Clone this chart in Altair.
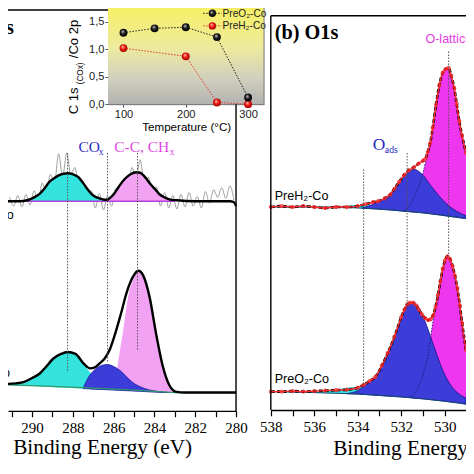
import altair as alt
import pandas as pd

K = 458 / 474.0


def px(v):
    return round(v * K, 2)


SERIF = "Liberation Serif"
SANS = "Liberation Sans"

# ---------------- Panel (a) C1s : PreH2-Co (upper trace) ----------------
a_up_raw_E = [291.1, 290.9, 290.7, 290.5, 290.3, 290.1, 289.9, 289.7, 289.5, 289.3,
              289.1, 288.9, 288.7, 288.5, 288.3, 288.1, 287.9, 287.7, 287.5, 287.3,
              287.1, 286.9, 286.7, 286.5, 286.3, 286.1, 285.9, 285.7, 285.5, 285.3,
              285.1, 284.9, 284.7, 284.5, 284.3, 284.1, 283.9, 283.7, 283.5, 283.3,
              283.1, 282.9, 282.7, 282.5, 282.3, 282.1, 281.9, 281.7, 281.5, 281.3,
              281.1, 280.9, 280.7, 280.5, 280.3, 280.1]
a_up_raw_I = [2.21, 2.12, 2.23, 2.11, 2.24, 2.13, 2.28, 2.17, 2.36, 2.25,
              2.45, 2.36, 2.66, 2.43, 2.67, 2.44, 2.52, 2.33, 2.38, 2.22,
              2.28, 2.10, 2.25, 2.08, 2.22, 2.12, 2.30, 2.22, 2.40, 2.33,
              2.52, 2.41, 2.60, 2.37, 2.42, 2.26, 2.32, 2.12, 2.26, 2.10,
              2.23, 2.09, 2.24, 2.11, 2.26, 2.12, 2.22, 2.10, 2.27, 2.15,
              2.29, 2.21, 2.31, 2.20, 2.33, 2.18]
a_up_fit_E = [291.18, 290.6, 290.24, 289.9, 289.62, 289.4, 289.15, 288.9, 288.67, 288.45,
              288.26, 288.0, 287.73, 287.5, 287.3, 287.1, 286.92, 286.7, 286.54, 286.35,
              286.2, 285.97, 285.75, 285.5, 285.3, 285.17, 284.88, 284.7, 284.55, 284.35,
              284.17, 283.95, 283.74, 283.5, 283.27, 282.9, 282.0, 281.0, 280.3, 280.1, 280.0]
a_up_fit_I = [2.17, 2.17, 2.18, 2.21, 2.25, 2.30, 2.37, 2.41, 2.44, 2.455,
              2.46, 2.45, 2.42, 2.36, 2.30, 2.25, 2.22, 2.20, 2.19, 2.185,
              2.20, 2.25, 2.32, 2.39, 2.43, 2.45, 2.47, 2.465, 2.44, 2.39,
              2.34, 2.29, 2.24, 2.21, 2.19, 2.18, 2.17, 2.17, 2.17, 2.16, 2.12]
a_up_base = 2.17
a_up_cox_E = [290.6, 290.24, 289.9, 289.62, 289.4, 289.15, 288.9, 288.67, 288.45, 288.26,
              288.0, 287.73, 287.5, 287.3, 287.1, 286.92, 286.7, 286.54, 286.3]
a_up_cox_I = [2.17, 2.18, 2.21, 2.25, 2.30, 2.37, 2.41, 2.44, 2.455, 2.46,
              2.45, 2.42, 2.36, 2.30, 2.25, 2.22, 2.195, 2.185, 2.17]
a_up_cc_E = [286.6, 286.45, 286.2, 285.97, 285.75, 285.5, 285.3, 285.17, 284.88, 284.7,
             284.55, 284.35, 284.17, 283.95, 283.74, 283.5, 283.27, 282.9]
a_up_cc_I = [2.17, 2.175, 2.20, 2.25, 2.32, 2.39, 2.43, 2.45, 2.47, 2.465,
             2.44, 2.39, 2.34, 2.29, 2.24, 2.21, 2.19, 2.175]

# ---------------- Panel (a) C1s : PreO2-Co (lower trace) ----------------
a_lo_fit_E = [291.18, 290.8, 290.39, 290.0, 289.61, 289.3, 288.97, 288.58, 288.26, 287.87,
              287.47, 287.16, 286.92, 286.7, 286.45, 286.2, 285.97, 285.65, 285.34, 285.02,
              284.79, 284.55, 284.23, 283.92, 283.60, 283.28, 282.97, 282.5, 281.5, 280.5, 280.0]
a_lo_fit_I = [0.28, 0.285, 0.30, 0.34, 0.39, 0.46, 0.54, 0.59, 0.61, 0.59,
              0.49, 0.44, 0.45, 0.49, 0.54, 0.63, 0.77, 1.00, 1.24, 1.40,
              1.45, 1.40, 1.17, 0.80, 0.47, 0.27, 0.20, 0.19, 0.19, 0.19, 0.19]
a_lo_bg_E = [291.18, 289.0, 287.0, 285.0, 283.0, 280.0]
a_lo_bg_I = [0.27, 0.255, 0.235, 0.215, 0.19, 0.19]
a_lo_cox_E = [291.18, 290.8, 290.39, 290.0, 289.61, 289.3, 288.97, 288.58, 288.26, 287.87,
              287.47, 287.16, 286.9, 286.6, 286.3, 286.0, 285.6, 285.2]
a_lo_cox_top = [0.28, 0.285, 0.30, 0.34, 0.39, 0.46, 0.54, 0.59, 0.61, 0.59,
                0.48, 0.40, 0.34, 0.29, 0.26, 0.24, 0.225, 0.215]
a_lo_cox_bot = [0.27, 0.266, 0.262, 0.257, 0.253, 0.25, 0.246, 0.242, 0.239, 0.235,
                0.231, 0.228, 0.225, 0.222, 0.219, 0.216, 0.212, 0.207]
a_lo_co_E = [287.5, 287.2, 286.9, 286.6, 286.3, 286.0, 285.7, 285.4, 285.1, 284.7, 284.3, 283.8, 283.3]
a_lo_co_top = [0.235, 0.36, 0.43, 0.47, 0.48, 0.46, 0.42, 0.36, 0.30, 0.25, 0.22, 0.20, 0.19]
a_lo_co_bot = [0.231, 0.228, 0.225, 0.222, 0.219, 0.216, 0.213, 0.21, 0.207, 0.203, 0.198, 0.193, 0.19]
a_lo_cc_E = [286.1, 285.95, 285.75, 285.5, 285.3, 285.02, 284.79, 284.55, 284.23, 283.92,
             283.6, 283.28, 282.97, 282.6]
a_lo_cc_top = [0.217, 0.28, 0.55, 0.88, 1.17, 1.37, 1.44, 1.40, 1.17, 0.80, 0.47, 0.27, 0.20, 0.19]
a_lo_cc_bot = [0.217, 0.215, 0.213, 0.21, 0.208, 0.205, 0.203, 0.2, 0.197, 0.194, 0.19, 0.19, 0.19, 0.19]
a_vl_E = [288.26, 286.3, 284.83]
a_vl_top = [2.67, 2.67, 2.67]
a_vl_bot = [0.40, 0.50, 0.62]

# ---------------- Panel (b) O1s : PreH2-Co (upper trace) ----------------
b_up_E = [538.0, 537.5, 537.0, 536.5, 536.0, 535.5, 535.0, 534.5, 534.0, 533.64,
          533.3, 533.07, 532.76, 532.5, 532.31, 532.1, 531.87, 531.65, 531.42, 531.2,
          531.0, 530.89, 530.78, 530.67, 530.55, 530.4, 530.25, 530.09, 529.95, 529.82,
          529.7, 529.56, 529.45, 529.33, 529.2, 529.02]
b_up_I = [2.10, 2.11, 2.10, 2.11, 2.10, 2.09, 2.10, 2.10, 2.11, 2.13,
          2.15, 2.16, 2.19, 2.23, 2.29, 2.36, 2.43, 2.48, 2.51, 2.55,
          2.58, 2.60, 2.67, 2.76, 2.92, 3.16, 3.36, 3.49, 3.53, 3.54,
          3.46, 3.33, 3.17, 2.99, 2.84, 2.66]
b_up_bg_E = [538.0, 535.0, 534.0, 533.0, 532.0, 531.0, 530.0, 529.02]
b_up_bg_I = [2.10, 2.10, 2.09, 2.08, 2.06, 2.04, 2.01, 1.98]
b_up_cy_E = [535.0, 534.5, 534.0, 533.5, 533.0, 532.5]
b_up_cy_top = [2.10, 2.11, 2.12, 2.12, 2.10, 2.07]
b_up_cy_bot = [2.10, 2.095, 2.09, 2.085, 2.08, 2.07]
b_up_ads_E = [533.8, 533.5, 533.3, 532.9, 532.5, 532.2, 531.87, 531.6, 531.42, 531.2,
              531.0, 530.6, 530.2, 529.8, 529.4, 529.02]
b_up_ads_top = [2.09, 2.11, 2.13, 2.17, 2.24, 2.32, 2.41, 2.47, 2.49, 2.47,
                2.43, 2.31, 2.20, 2.11, 2.05, 2.01]
b_up_ads_bot = [2.086, 2.084, 2.082, 2.075, 2.07, 2.064, 2.057, 2.052, 2.048, 2.044,
                2.04, 2.03, 2.02, 2.005, 1.995, 1.98]
b_up_lat_E = [531.9, 531.6, 531.42, 531.2, 531.0, 530.89, 530.78, 530.67, 530.55, 530.4,
              530.25, 530.09, 529.95, 529.82, 529.7, 529.56, 529.45, 529.33, 529.2, 529.02]
b_up_lat_top = [2.06, 2.12, 2.20, 2.31, 2.45, 2.56, 2.66, 2.76, 2.92, 3.16,
                3.36, 3.49, 3.53, 3.54, 3.46, 3.33, 3.17, 2.99, 2.84, 2.66]
b_up_lat_bot = [2.057, 2.052, 2.048, 2.044, 2.04, 2.038, 2.035, 2.033, 2.03, 2.028,
                2.024, 2.02, 2.016, 2.013, 2.01, 2.006, 2.003, 2.0, 1.995, 1.98]

# ---------------- Panel (b) O1s : PreO2-Co (lower trace) ----------------
b_lo_E = [538.0, 537.5, 537.0, 536.5, 536.0, 535.5, 535.0, 534.5, 534.0, 533.73,
          533.45, 533.2, 532.89, 532.62, 532.31, 532.0, 531.85, 531.73, 531.6, 531.45,
          531.3, 531.2, 531.05, 530.9, 530.76, 530.64, 530.53, 530.42, 530.31, 530.2,
          530.09, 529.98, 529.87, 529.75, 529.64, 529.53, 529.42, 529.3, 529.2, 529.02]
b_lo_I = [0.19, 0.19, 0.195, 0.19, 0.195, 0.20, 0.205, 0.21, 0.23, 0.26,
          0.30, 0.34, 0.46, 0.59, 0.76, 0.96, 1.04, 1.09, 1.11, 1.11,
          1.08, 1.04, 0.99, 0.95, 0.93, 0.94, 0.98, 1.07, 1.19, 1.33,
          1.46, 1.55, 1.59, 1.56, 1.49, 1.39, 1.26, 1.08, 0.90, 0.62]
b_lo_bg_E = [538.0, 536.0, 534.0, 533.0, 532.0, 531.0, 530.0, 529.02]
b_lo_bg_I = [0.19, 0.18, 0.165, 0.15, 0.135, 0.115, 0.09, 0.06]
b_lo_cy_E = [536.2, 535.5, 535.0, 534.5, 534.0, 533.6, 533.2, 532.8, 532.4]
b_lo_cy_top = [0.18, 0.195, 0.21, 0.23, 0.24, 0.235, 0.22, 0.19, 0.16]
b_lo_cy_bot = [0.178, 0.173, 0.17, 0.168, 0.165, 0.159, 0.153, 0.147, 0.141]
b_lo_ads_E = [534.5, 534.0, 533.73, 533.45, 533.2, 532.89, 532.62, 532.31, 532.0, 531.73,
              531.51, 531.2, 530.98, 530.76, 530.53, 530.31, 530.09, 529.87, 529.64, 529.42, 529.02]
b_lo_ads_top = [0.17, 0.20, 0.24, 0.29, 0.34, 0.46, 0.59, 0.76, 0.96, 1.09,
                1.11, 1.06, 0.96, 0.83, 0.68, 0.54, 0.41, 0.31, 0.23, 0.18, 0.12]
b_lo_ads_bot = [0.168, 0.165, 0.161, 0.157, 0.153, 0.148, 0.144, 0.139, 0.135, 0.13,
                0.125, 0.119, 0.115, 0.11, 0.104, 0.099, 0.093, 0.087, 0.081, 0.076, 0.06]
b_lo_lat_E = [531.7, 531.5, 531.2, 530.98, 530.76, 530.53, 530.31, 530.09, 529.87, 529.64,
              529.42, 529.3, 529.2, 529.02]
b_lo_lat_top = [0.13, 0.15, 0.24, 0.38, 0.58, 0.93, 1.19, 1.46, 1.59, 1.49, 1.26, 1.08, 0.90, 0.62]
b_lo_lat_bot = [0.13, 0.125, 0.119, 0.115, 0.11, 0.104, 0.099, 0.093, 0.087, 0.081,
                0.076, 0.072, 0.069, 0.06]
b_vl_E = [533.73, 531.73, 529.82]
b_vl_top = [2.49, 2.66, 3.71]
b_vl_bot = [0.26, 1.09, 1.59]

# ---------------- Inset ----------------
ins_T_O2 = [100, 150, 200, 250, 300]
ins_R_O2 = [1.30, 1.38, 1.40, 1.22, 0.12]
ins_T_H2 = [100, 200, 250, 300]
ins_R_H2 = [1.02, 0.87, 0.03, 0.0]

# ---------------- scales (layout) ----------------
SCALES = {
    "a": (lambda: alt.Scale(domain=[280, 291.18], range=[px(236), 0], nice=False, zero=False),
          lambda: alt.Scale(domain=[0, 4.17], range=[px(417), 0], nice=False, zero=False)),
    "b": (lambda: alt.Scale(domain=[529.02, 538], range=[px(474), px(272)], nice=False, zero=False),
          lambda: alt.Scale(domain=[0, 4.16], range=[px(416), 0], nice=False, zero=False)),
    "i": (lambda: alt.Scale(domain=[75.2, 325.6], range=[px(103.5), px(265)], nice=False, zero=False),
          lambda: alt.Scale(domain=[0, 1.75], range=[px(99.5), 0], nice=False, zero=False)),
}


def ch(panel, df, mark, x="E", y="I", y2=None, x2=None, xaxis=None, yaxis=None, **kw):
    sx, sy = SCALES[panel]
    enc = {"x": alt.X(f"{x}:Q", scale=sx(), axis=xaxis),
           "y": alt.Y(f"{y}:Q", scale=sy(), axis=yaxis)}
    if y2 is not None:
        enc["y2"] = alt.Y2(f"{y2}:Q") if isinstance(y2, str) else alt.Y2Datum(y2)
    if x2 is not None:
        enc["x2"] = alt.X2(f"{x2}:Q")
    return getattr(alt.Chart(df), "mark_" + mark)(**kw).encode(**enc)


def txt(s, x, y, size, font=SANS, color="black", align="left", baseline="middle",
        weight="normal", angle=0):
    kw = dict(align=align, baseline=baseline, font=font, fontSize=size, color=color,
              fontWeight=weight)
    if angle:
        kw["angle"] = angle
    return alt.Chart(pd.DataFrame({"t": [s]})).mark_text(**kw).encode(
        x=alt.value(px(x)), y=alt.value(px(y)), text="t:N")


def area_df(E, top, bot):
    return pd.DataFrame({"E": E, "top": top, "bot": bot})


L = []

# colours
CYAN = "#34e2de"
BLUE = "#3c3cd8"
MAG_L = "#f2a2f2"
MAG_R = "#ef36ef"

# ---- panel (a) upper ----
L.append(ch("a", pd.DataFrame({"E": a_up_raw_E, "I": a_up_raw_I}), "line",
            color="#a0a0a0", strokeWidth=1, interpolate="monotone"))
L.append(ch("a", pd.DataFrame({"E": a_up_cox_E, "I": a_up_cox_I}), "area", y2=a_up_base,
            color=CYAN, interpolate="monotone"))
L.append(ch("a", pd.DataFrame({"E": a_up_cc_E, "I": a_up_cc_I}), "area", y2=a_up_base,
            color=MAG_L, interpolate="monotone"))
L.append(ch("a", pd.DataFrame({"E0": [291.18], "E1": [283.0], "I": [a_up_base]}), "rule",
            x="E0", x2="E1", color="#b040d8", strokeWidth=1.5))
L.append(ch("a", pd.DataFrame({"E": a_up_fit_E, "I": a_up_fit_I}), "line",
            color="black", strokeWidth=2.4, interpolate="monotone"))

# ---- panel (a) lower ----
L.append(ch("a", area_df(a_lo_cc_E, a_lo_cc_top, a_lo_cc_bot), "area", y="top", y2="bot",
            color=MAG_L, interpolate="monotone"))
L.append(ch("a", area_df(a_lo_cox_E, a_lo_cox_top, a_lo_cox_bot), "area", y="top", y2="bot",
            color=CYAN, interpolate="monotone"))
L.append(ch("a", area_df(a_lo_co_E, a_lo_co_top, a_lo_co_bot), "area", y="top", y2="bot",
            color=BLUE, interpolate="monotone", stroke="#1a1a9a", strokeWidth=0.8))
L.append(ch("a", pd.DataFrame({"E": a_lo_bg_E, "I": a_lo_bg_I}), "line",
            color="#2e9a6a", strokeWidth=1.2))
L.append(ch("a", pd.DataFrame({"E": a_lo_fit_E, "I": a_lo_fit_I}), "line",
            color="black", strokeWidth=2.4, interpolate="monotone"))
L.append(ch("a", pd.DataFrame({"E": a_vl_E, "top": a_vl_top, "bot": a_vl_bot}), "rule",
            y="top", y2="bot", color="#555555", strokeWidth=1, strokeDash=[1.5, 1.5]))
# frame (a)
L.append(ch("a", pd.DataFrame({"E0": [291.18], "E1": [280.0], "I": [4.15]}), "rule",
            x="E0", x2="E1", color="black", strokeWidth=1.4))
L.append(ch("a", pd.DataFrame({"E": [280.0], "I0": [0.0], "I1": [4.15]}), "rule",
            y="I0", y2="I1", color="black", strokeWidth=1.4))
# axes (a)
AX_A = alt.Axis(orient="bottom", offset=px(417) - 458, values=[280, 282, 284, 286, 288, 290],
                format="d", labelFont=SERIF, labelFontSize=px(15.5), labelColor="black",
                labelFlush=False, labelOverlap=False, labelPadding=px(4), tickSize=px(6),
                tickColor="black", tickWidth=1.2, domainColor="black", domainWidth=1.4,
                grid=False, title=None)
AX_A2 = alt.Axis(orient="bottom", offset=px(417) - 458, values=[281, 283, 285, 287, 289, 291],
                 labels=False, domain=False, tickSize=px(6), tickColor="black", tickWidth=1.2,
                 grid=False, title=None)
L.append(ch("a", pd.DataFrame({"E": [280.0], "I": [0.0]}), "point", xaxis=AX_A, opacity=0))
L.append(ch("a", pd.DataFrame({"E": [280.0], "I": [0.0]}), "point", xaxis=AX_A2, opacity=0))

# ---- panel (b) ----
for (E, I, bgE, bgI, cyE, cyT, cyB, adE, adT, adB, laE, laT, laB) in [
    (b_up_E, b_up_I, b_up_bg_E, b_up_bg_I, b_up_cy_E, b_up_cy_top, b_up_cy_bot,
     b_up_ads_E, b_up_ads_top, b_up_ads_bot, b_up_lat_E, b_up_lat_top, b_up_lat_bot),
    (b_lo_E, b_lo_I, b_lo_bg_E, b_lo_bg_I, b_lo_cy_E, b_lo_cy_top, b_lo_cy_bot,
     b_lo_ads_E, b_lo_ads_top, b_lo_ads_bot, b_lo_lat_E, b_lo_lat_top, b_lo_lat_bot),
]:
    L.append(ch("b", area_df(laE, laT, laB), "area", y="top", y2="bot",
                color=MAG_R, interpolate="monotone"))
    L.append(ch("b", area_df(cyE, cyT, cyB), "area", y="top", y2="bot",
                color=CYAN, interpolate="monotone"))
    L.append(ch("b", area_df(adE, adT, adB), "area", y="top", y2="bot",
                color=BLUE, interpolate="monotone", stroke="#12128a", strokeWidth=0.8))
    L.append(ch("b", pd.DataFrame({"E": laE, "I": laT}), "line", color="#1c1c7a",
                strokeWidth=1, strokeDash=[1.5, 1.5], interpolate="monotone"))
    L.append(ch("b", pd.DataFrame({"E": bgE, "I": bgI}), "line", color="#124a7a",
                strokeWidth=1))
    L.append(ch("b", pd.DataFrame({"E": E, "I": I}), "line", color="black",
                strokeWidth=2.6, strokeDash=[4, 2], interpolate="monotone"))
    L.append(ch("b", pd.DataFrame({"E": E, "I": I}), "line", color="#ff2a2a",
                strokeWidth=1.4, interpolate="monotone"))
    L.append(ch("b", pd.DataFrame({"E": E, "I": I}), "point", shape="circle", size=10,
                filled=False, color="#ff2a2a", strokeWidth=1, opacity=1))

L.append(ch("b", pd.DataFrame({"E": b_vl_E, "top": b_vl_top, "bot": b_vl_bot}), "rule",
            y="top", y2="bot", color="#555555", strokeWidth=1, strokeDash=[1.5, 1.5]))
# frame (b)
L.append(ch("b", pd.DataFrame({"E0": [538.0], "E1": [529.02], "I": [4.08]}), "rule",
            x="E0", x2="E1", color="black", strokeWidth=1.4))
L.append(ch("b", pd.DataFrame({"E": [538.0], "I0": [0.0], "I1": [4.08]}), "rule",
            y="I0", y2="I1", color="black", strokeWidth=1.4))
AX_B = alt.Axis(orient="bottom", offset=px(416) - 458, values=[530, 532, 534, 536, 538],
                format="d", labelFont=SERIF, labelFontSize=px(15.5), labelColor="black",
                labelFlush=False, labelOverlap=False, labelPadding=px(4), tickSize=px(6),
                tickColor="black", tickWidth=1.2, domainColor="black", domainWidth=1.4,
                grid=False, title=None)
AX_B2 = alt.Axis(orient="bottom", offset=px(416) - 458, values=[531, 533, 535, 537],
                 labels=False, domain=False, tickSize=px(6), tickColor="black", tickWidth=1.2,
                 grid=False, title=None)
L.append(ch("b", pd.DataFrame({"E": [538.0], "I": [0.0]}), "point", xaxis=AX_B, opacity=0))
L.append(ch("b", pd.DataFrame({"E": [538.0], "I": [0.0]}), "point", xaxis=AX_B2, opacity=0))

# ---- labels ----
L.append(txt("(a) C1s", 6, 27, px(21), font=SERIF, align="right", baseline="alphabetic", weight="bold"))
L.append(txt("(b) O1s", 276, 32, px(21), font=SERIF, baseline="alphabetic", weight="bold"))
L.append(txt("PreH\u2082-Co", 6, 214, px(13), align="right"))
L.append(txt("PreO\u2082-Co", 2, 378, px(13), align="right"))
L.append(txt("PreH\u2082-Co", 276, 195, px(13)))
L.append(txt("PreO\u2082-Co", 276, 384, px(13)))
L.append(txt("CO", 73, 149.5, px(16), font=SERIF, color="#2c2cc4", baseline="alphabetic"))
L.append(txt("x", 94, 152.5, px(10), font=SERIF, color="#2c2cc4", baseline="alphabetic"))
L.append(txt("C-C, CH", 110, 149.5, px(16), font=SERIF, color="#e048e0", baseline="alphabetic"))
L.append(txt("x", 167.5, 152.5, px(10), font=SERIF, color="#e048e0", baseline="alphabetic"))
L.append(txt("O", 377.5, 146.5, px(18), font=SERIF, color="#2626c4", baseline="alphabetic"))
L.append(txt("ads", 390, 150.5, px(10), font=SERIF, color="#2626c4", baseline="alphabetic"))
L.append(txt("O-lattice", 432, 32, px(13), color="#e23ce2"))
L.append(txt("Binding Energy (eV)", 98, 462, px(22), font=SERIF, align="center", baseline="alphabetic"))
L.append(txt("Binding Energy (eV)", 336.5, 463, px(22), font=SERIF, baseline="alphabetic"))

# ---- inset ----
GRAD = alt.LinearGradient(gradient="linear", x1=0, x2=0, y1=0, y2=1, stops=[
    alt.GradientStop(color="#f6ef66", offset=0),
    alt.GradientStop(color="#eeeb9c", offset=0.4),
    alt.GradientStop(color="#d2d1bc", offset=0.72),
    alt.GradientStop(color="#b2b2b2", offset=1)])
L.append(ch("i", pd.DataFrame({"x0": [75.2], "x1": [325.6], "y0": [0.0], "y1": [1.75]}), "rect",
            x="x0", x2="x1", y="y0", y2="y1", fill=GRAD))
L.append(ch("i", pd.DataFrame({"T": [325.6], "y0": [0.0], "y1": [1.75]}), "rule",
            x="T", y="y0", y2="y1", color="#777777", strokeWidth=1))
L.append(ch("i", pd.DataFrame({"T": ins_T_H2, "R": ins_R_H2}), "line", x="T", y="R",
            color="#e23a2a", strokeWidth=1, strokeDash=[1.5, 1.5]))
L.append(ch("i", pd.DataFrame({"T": ins_T_O2, "R": ins_R_O2}), "line", x="T", y="R",
            color="#222222", strokeWidth=1, strokeDash=[1.5, 1.5]))


def ball(c0, c1, c2):
    return alt.RadialGradient(gradient="radial", x1=0.38, y1=0.32, r1=0.0, x2=0.5, y2=0.5, r2=0.6,
                              stops=[alt.GradientStop(color=c0, offset=0),
                                     alt.GradientStop(color=c1, offset=0.45),
                                     alt.GradientStop(color=c2, offset=1)])


BALL_K = ball("#d8d8d8", "#1a1a1a", "#000000")
BALL_R = ball("#ffd0c8", "#f01a10", "#8a0000")
L.append(ch("i", pd.DataFrame({"T": ins_T_H2, "R": ins_R_H2}), "point", x="T", y="R",
            shape="circle", size=62, filled=True, fill=BALL_R, opacity=1, strokeWidth=0))
L.append(ch("i", pd.DataFrame({"T": ins_T_O2, "R": ins_R_O2}), "point", x="T", y="R",
            shape="circle", size=62, filled=True, fill=BALL_K, opacity=1, strokeWidth=0))
AX_IX = alt.Axis(orient="bottom", offset=px(99.5) - 458, values=[100, 200, 300], format="d",
                 labelFont=SANS, labelFontSize=px(11.5), labelColor="#222222", labelFlush=False,
                 labelPadding=1, tickSize=3, tickColor="#555555", domainColor="#555555",
                 grid=False, title=None)
AX_IY = alt.Axis(orient="left", offset=-px(103.5), values=[0, 0.5, 1.0, 1.5],
                 labelExpr="replace(format(datum.value, '.1f'), '.', ',')",
                 labelFont=SANS, labelFontSize=px(11.5), labelColor="#222222", labelFlush=False,
                 labelPadding=1, tickSize=3, tickColor="#555555", domainColor="#555555",
                 grid=False, title=None)
L.append(ch("i", pd.DataFrame({"T": [100], "R": [0.0]}), "point", x="T", y="R",
            xaxis=AX_IX, yaxis=AX_IY, opacity=0))
L.append(txt("Temperature (\u00b0C)", 185, 124, px(12), align="center"))
L.append(txt("C 1s", 68, 110, px(13.5), align="left", angle=270))
L.append(txt("(COx)", 75.5, 79, px(8.5), align="left", angle=270))
L.append(txt("/Co 2p", 68, 52, px(13.5), align="left", angle=270))
# inset legend
for yy, col, ballf, name in [(5.5, "#222222", BALL_K, "PreO\u2082-Co"),
                             (18.5, "#e23a2a", BALL_R, "PreH\u2082-Co")]:
    L.append(alt.Chart(pd.DataFrame({"k": [0]})).mark_rule(
        color=col, strokeWidth=1, strokeDash=[1.5, 1.5]).encode(
        x=alt.value(px(202)), x2=alt.value(px(221)), y=alt.value(px(yy))))
    L.append(alt.Chart(pd.DataFrame({"k": [0]})).mark_point(
        shape="circle", size=55, filled=True, fill=ballf, opacity=1, strokeWidth=0).encode(
        x=alt.value(px(211.5)), y=alt.value(px(yy))))
    L.append(txt(name, 222, yy + 0.5, px(10.5), color="#222222"))

chart = alt.layer(*L).resolve_scale(x="independent", y="independent").properties(
    width=458, height=458, autosize=alt.AutoSizeParams(type="none"), padding=0
).configure_view(stroke=None)

chart.save("out.html", embed_options={"renderer": "svg", "actions": False})
